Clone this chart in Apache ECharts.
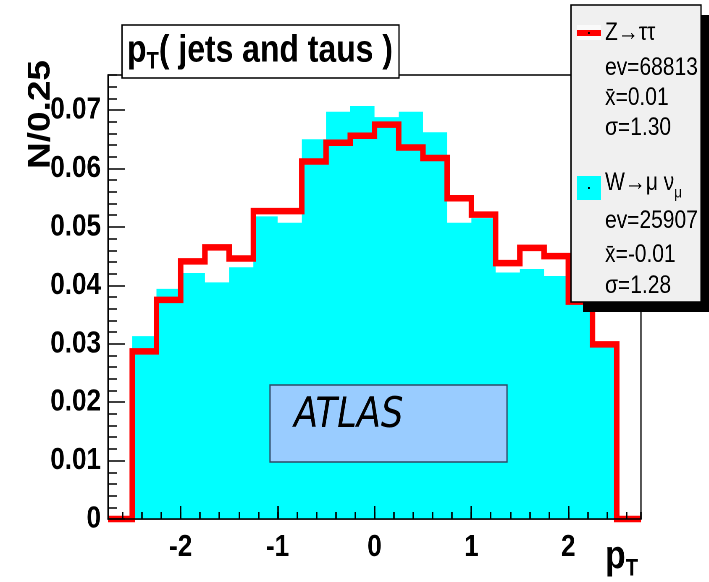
<!DOCTYPE html>
<html><head><meta charset="utf-8">
<script src="https://cdn.jsdelivr.net/npm/echarts@6/dist/echarts.min.js"></script>
<style>
html,body{margin:0;padding:0;background:#fff;overflow:hidden;width:709px;height:582px}
#wrap{width:709px;height:582px;overflow:hidden;position:relative}
#c{width:844px;height:582px;transform:scaleX(0.84);transform-origin:0 0;position:absolute;left:0;top:0}
</style>
</head><body><div id="wrap"><div id="c"></div></div>
<script>
// ---- data ----
const binEdges = [-2.75,-2.5,-2.25,-2,-1.75,-1.5,-1.25,-1,-0.75,-0.5,-0.25,0,0.25,0.5,0.75,1,1.25,1.5,1.75,2,2.25,2.5,2.75];
const zTauTau = [0,0.0287,0.0375,0.0441,0.0465,0.0446,0.0527,0.0527,0.0612,0.0644,0.0656,0.0675,0.0636,0.0618,0.0549,0.0521,0.0438,0.0464,0.0450,0.0372,0.0299,0];
const wMuNu   = [0,0.0313,0.0394,0.0421,0.0405,0.0431,0.0518,0.0507,0.0650,0.0697,0.0707,0.0688,0.0697,0.0662,0.0507,0.0515,0.0422,0.0428,0.0416,0.0380,0.0295,0];
const xMajorStep = 1, xMinorStep = 0.2;
const yMajorStep = 0.01, yMinorStep = 0.002;
const seriesNames = ['Z\u2192\u03c4\u03c4', 'W\u2192\u03bc \u03bd'];
const evCounts = ['68813', '25907'];
const means = ['0.01', '-0.01'];
const sigmas = ['1.30', '1.28'];
const titleText = '( jets and taus )';
const yTitle = 'N/0.25';
const atlasText = 'ATLAS';

const X_MIN = -2.75, X_MAX = 2.75, Y_MIN = 0, Y_MAX = 0.076;

// the page is drawn 0.84x narrower horizontally (like the reference)
const SX = 0.84;
const vx = px => px / SX;
const FONT = "'Liberation Sans', Arial, sans-serif";

function stepData(vals) {
  return binEdges.map((e, i) => [e, i < vals.length ? vals[i] : vals[vals.length - 1]]);
}

const chart = echarts.init(document.getElementById('c'), null, {renderer: 'canvas', devicePixelRatio: 2});

const labelFont = {fontFamily: FONT, fontWeight: 'bold', fontSize: 31, color: '#000'};
const legendFont = {fontFamily: FONT, fontSize: 25, fill: '#000'};

function legendT(y, text) {
  return {type: 'text', z: 106, x: vx(605), y: y,
    style: Object.assign({text: text, verticalAlign: 'middle'}, legendFont)};
}

const option = {
  animation: false,
  backgroundColor: '#fff',
  grid: {left: vx(108), top: 75, right: vx(68), bottom: 63, show: true, borderColor: '#000', borderWidth: 1.5},
  xAxis: [
    {type: 'value', min: X_MIN, max: X_MAX, position: 'bottom', offset: 0, z: 10,
     splitNumber: 5, minInterval: xMajorStep, maxInterval: xMajorStep,
     axisLine: {show: true, onZero: false, lineStyle: {color: '#000', width: 1.5}},
     axisTick: {show: true, inside: true, length: 13, lineStyle: {color: '#000', width: 1.8}},
     axisLabel: Object.assign({show: true, margin: 13, showMinLabel: false, showMaxLabel: false}, labelFont),
     splitLine: {show: false}},
    {type: 'value', min: X_MIN, max: X_MAX, position: 'bottom', offset: 0, z: 10,
     splitNumber: 27, minInterval: xMinorStep, maxInterval: xMinorStep,
     axisLine: {show: false, onZero: false},
     axisTick: {show: true, inside: true, length: 7, lineStyle: {color: '#000', width: 1.8}},
     axisLabel: {show: false},
     splitLine: {show: false}}
  ],
  yAxis: [
    {type: 'value', min: Y_MIN, max: Y_MAX, position: 'left', offset: 0, z: 10,
     splitNumber: 8, minInterval: yMajorStep, maxInterval: yMajorStep,
     axisLine: {show: true, onZero: false, lineStyle: {color: '#000', width: 1.5}},
     axisTick: {show: true, inside: true, length: vx(17), lineStyle: {color: '#000', width: 1.5}},
     axisLabel: Object.assign({show: true, margin: vx(7), showMaxLabel: false,
       formatter: v => (v === 0 ? '0' : v.toFixed(2))}, labelFont),
     splitLine: {show: false}},
    {type: 'value', min: Y_MIN, max: Y_MAX, position: 'left', offset: 0, z: 10,
     splitNumber: 38, minInterval: yMinorStep, maxInterval: yMinorStep,
     axisLine: {show: false, onZero: false},
     axisTick: {show: true, inside: true, length: vx(9), lineStyle: {color: '#000', width: 1.5}},
     axisLabel: {show: false},
     splitLine: {show: false}}
  ],
  series: [
    {name: seriesNames[1], type: 'line', step: 'end', xAxisIndex: 0, yAxisIndex: 0,
     data: stepData(wMuNu), symbol: 'none', z: 2,
     lineStyle: {width: 0, color: '#00ffff'}, areaStyle: {color: '#00ffff', opacity: 1}},
    {name: seriesNames[0], type: 'line', step: 'end', xAxisIndex: 0, yAxisIndex: 0,
     data: stepData(zTauTau), symbol: 'none', z: 3, clip: false,
     lineStyle: {width: 6.5, color: '#ff0000', join: 'miter', cap: 'butt'}}
  ],
  graphic: [
    // title box
    {type: 'rect', z: 100, shape: {x: vx(122), y: 25, width: vx(277), height: 53},
     style: {fill: '#fff', stroke: '#000', lineWidth: 1.5}},
    {type: 'text', z: 101, x: vx(127), y: 51,
     style: {text: '{p|p}{s|T}{t|' + titleText + '}', verticalAlign: 'middle', align: 'left',
       rich: {
         p: {fontFamily: FONT, fontWeight: 'bold', fontSize: 38, fill: '#000'},
         s: {fontFamily: FONT, fontWeight: 'bold', fontSize: 24, fill: '#000', padding: [22, 0, 0, 0]},
         t: {fontFamily: FONT, fontWeight: 'bold', fontSize: 38, fill: '#000'}
       }}},
    // y axis title
    {type: 'text', z: 101, x: vx(41), y: 60, rotation: Math.PI / 2,
     style: {text: yTitle, align: 'right', verticalAlign: 'middle',
       fontFamily: FONT, fontWeight: 'bold', fontSize: 37, fill: '#000'}},
    // x axis title
    {type: 'text', z: 101, x: vx(638), y: 557,
     style: {text: '{p|p}{s|T}', align: 'right', verticalAlign: 'middle',
       rich: {
         p: {fontFamily: FONT, fontWeight: 'bold', fontSize: 40, fill: '#000'},
         s: {fontFamily: FONT, fontWeight: 'bold', fontSize: 24, fill: '#000', padding: [24, 0, 0, 0]}
       }}},
    // ATLAS box
    {type: 'rect', z: 100, shape: {x: vx(270), y: 385, width: vx(237), height: 77},
     style: {fill: '#99ccff', stroke: '#2f4a66', lineWidth: 1.5}},
    {type: 'text', z: 101, x: vx(294), y: 416,
     style: {text: atlasText, align: 'left', verticalAlign: 'middle',
       fontFamily: "'DejaVu Sans', sans-serif", fontStyle: 'italic', fontSize: 42, fill: '#000'}},
    // legend shadow + box
    {type: 'rect', z: 102, shape: {x: vx(583), y: 15, width: vx(130), height: 297}, style: {fill: '#000'}},
    {type: 'rect', z: 103, shape: {x: vx(571), y: 5, width: vx(130), height: 297},
     style: {fill: '#f0f0f0', stroke: '#000', lineWidth: 1.5}},
    // legend markers
    {type: 'rect', z: 104, shape: {x: vx(577), y: 25, width: vx(24), height: 15}, style: {fill: '#fafafa'}},
    {type: 'line', z: 105, shape: {x1: vx(577), y1: 33, x2: vx(601), y2: 33}, style: {stroke: '#ff0000', lineWidth: 6}},
    {type: 'rect', z: 106, shape: {x: vx(588), y: 32, width: 2, height: 2}, style: {fill: '#000'}},
    {type: 'rect', z: 104, shape: {x: vx(577), y: 176, width: vx(24), height: 24}, style: {fill: '#00ffff'}},
    {type: 'rect', z: 106, shape: {x: vx(588), y: 187, width: 2, height: 2}, style: {fill: '#000'}},
    // legend texts
    legendT(33, seriesNames[0]),
    legendT(68, 'ev=' + evCounts[0]),
    legendT(98, 'x\u0304=' + means[0]),
    legendT(128, '\u03c3=' + sigmas[0]),
    {type: 'text', z: 106, x: vx(605), y: 183,
     style: {text: '{a|' + seriesNames[1] + '}{b|\u03bc}', verticalAlign: 'middle',
       rich: {a: legendFont, b: {fontFamily: FONT, fontSize: 16, fill: '#000', padding: [20, 0, 0, 0]}}}},
    legendT(221, 'ev=' + evCounts[1]),
    legendT(255, 'x\u0304=' + means[1]),
    legendT(286, '\u03c3=' + sigmas[1])
  ]
};
chart.setOption(option);
</script></body></html>
